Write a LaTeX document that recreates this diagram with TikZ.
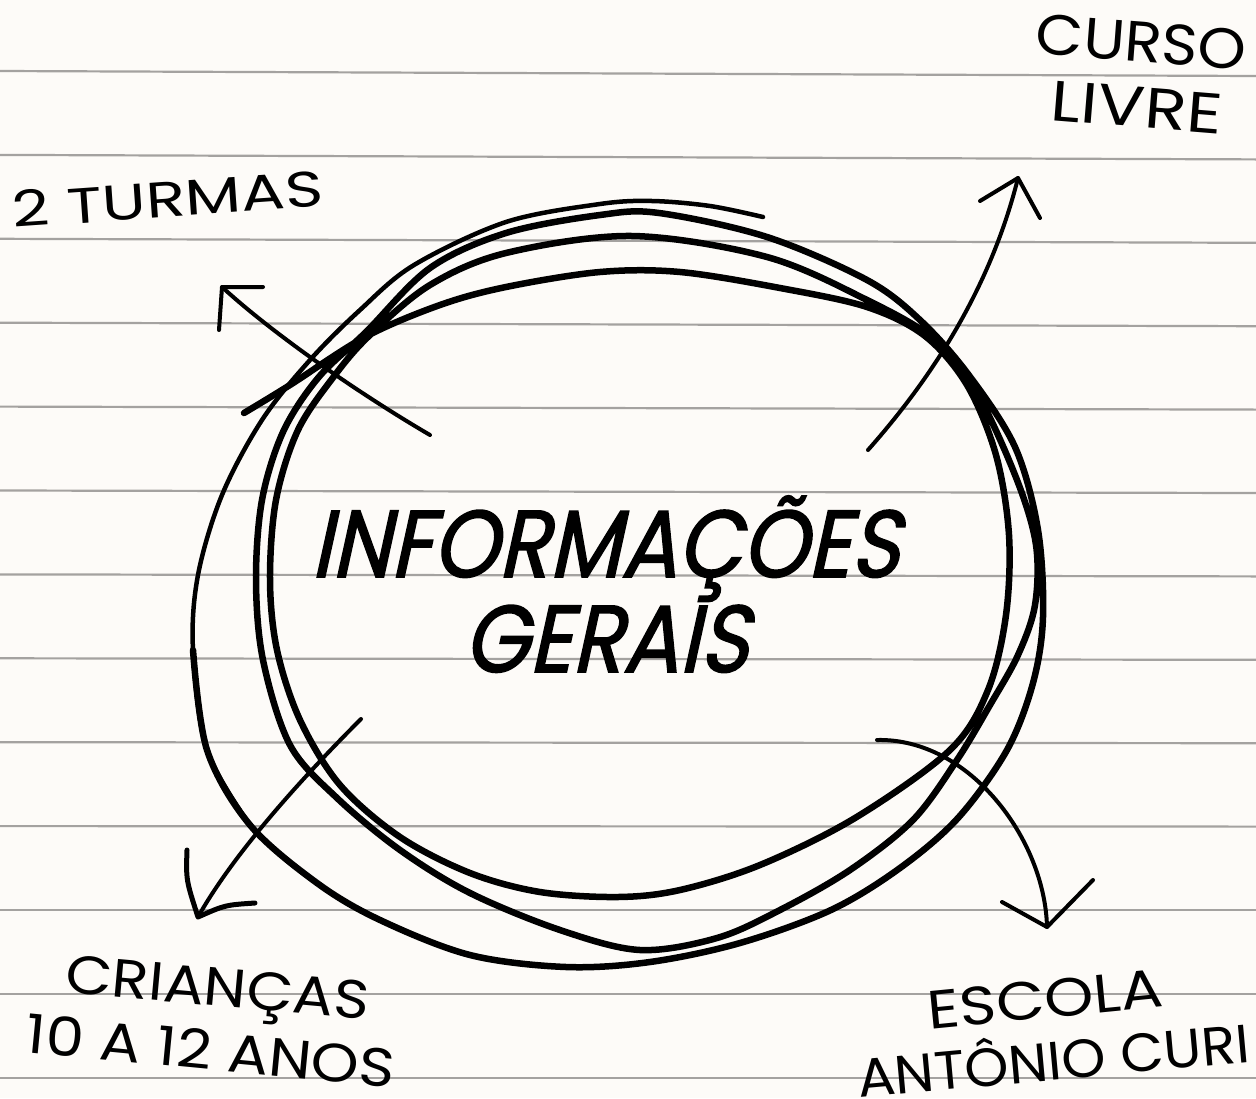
\documentclass[tikz,border=0pt]{standalone}
\usepackage{fontspec}
\setmainfont{Poppins}
\newfontfamily\bigfont{Poppins}[FakeSlant=0.22,FakeStretch=0.88,FakeBold=1.6]
\definecolor{paper}{HTML}{FDFBF8}
\definecolor{rulegray}{HTML}{A4A2A0}
\begin{document}
\begin{tikzpicture}[x=1pt,y=-1pt,
  scrib/.style={line width=6.5pt, line cap=round, line join=round},
  thinscrib/.style={line width=4.5pt, line cap=round, line join=round},
  arrowline/.style={line width=4pt, line cap=round, line join=round},
  lbl/.style={inner sep=0pt, anchor=base, font=\fontsize{54}{60}\selectfont},
  bigtxt/.style={inner sep=0pt, anchor=base, font=\bigfont\fontsize{95}{100}\selectfont}]
\fill[paper] (0,0) rectangle (1256,1098);
\useasboundingbox (0,0) rectangle (1256,1098);
% ruled paper
\foreach \i in {0,...,12} {
  \pgfmathsetmacro{\yl}{71+83.9*\i}
  \pgfmathsetmacro{\dy}{max(0,5-0.5*\i)}
  \draw[rulegray, line width=2.2pt] (0,\yl) -- (1256,\yl+\dy);
}
% scribbled circle
\draw[scrib] plot[smooth, tension=0.55] coordinates {
 (244,413) (290,385) (365,337) (440,305) (506,287) (600,272) (680,272) (780,288) (867,307) (925,336) (967,385) (996,455) (1009,535) (1006,615) (988,690) (950,750) (855,818) (760,865) (680,890) (618,897) (540,892) (470,873) (400,837) (340,785) (300,720) (277,650) (270,580) (276,500) (298,430) (335,375) (370,335)
 (430,285) (506,253) (632,236) (767,257) (867,300) (935,340) (978,395) (1017,480) (1036,545) (1035,605) (1018,655) (990,705) (957,760) (913,820) (850,870) (780,910) (717,938) (640,950) (560,930) (470,893) (400,850) (337,798) (290,745) (263,660) (256,580) (262,500) (283,432) (318,378) (366,332)
 (430,268) (506,233) (600,215) (659,213) (767,237) (867,280) (920,320) (968,374) (1015,447) (1038,530) (1043,617) (1033,683) (1007,750) (958,818) (900,868) (831,910) (740,943) (650,962) (566,967) (470,955) (380,920) (317,883) (250,825) (207,750) (193,650)};
\draw[thinscrib] plot[smooth, tension=0.55] coordinates {
 (250,825) (207,750) (193,650) (198,575) (222,495) (262,420) (310,360) (360,310) (414,265) (506,222) (600,204) (652,201) (710,206) (763,217)};
% arrow coordinates
\coordinate (a1s) at (430,435); \coordinate (a1t) at (222,287);
\coordinate (h1a) at (263,287); \coordinate (h1b) at (219,330);
\coordinate (a2s) at (868,450); \coordinate (a2t) at (1018,178);
\coordinate (h2a) at (980,201); \coordinate (h2b) at (1040,218);
\coordinate (a3s) at (361,719); \coordinate (a3t) at (198,917);
\coordinate (h3a) at (187,850); \coordinate (h3b) at (255,903);
\coordinate (a4s) at (877,740); \coordinate (a4t) at (1047,927);
\coordinate (h4a) at (1002,902); \coordinate (h4b) at (1093,880);
% arrows
\draw[arrowline] (a1s) .. controls (370,400) and (280,340) .. (a1t);
\draw[arrowline] (h1a) -- (a1t) -- (h1b);
\draw[arrowline] (a2s) .. controls (930,380) and (990,290) .. (a2t);
\draw[arrowline] (h2a) -- (a2t) -- (h2b);
\draw[arrowline] (a3s) .. controls (290,790) and (230,860) .. (a3t);
\draw[arrowline, line width=5pt] (h3a) .. controls (186,880) .. (a3t) .. controls (225,905) .. (h3b);
\draw[arrowline] (a4s) .. controls (970,738) and (1045,840) .. (a4t);
\draw[arrowline] (h4a) -- (a4t) -- (h4b);
% labels
\node[lbl, font=\fontsize{50}{56}\selectfont, rotate=4] (turmas) at (169,217) {\scalebox{1.3}[1]{2 TURMAS}};
\node[lbl, font=\fontsize{57}{62}\selectfont, rotate=-4.4] (curso) at (1140,62) {\scalebox{1.08}[1]{CURSO}};
\node[lbl, font=\fontsize{57}{62}\selectfont, rotate=-4.6] (livre) at (1135,127) {\scalebox{1.22}[1]{LIVRE}};
\node[lbl, rotate=-5.2] (criancas) at (216,1006) {\scalebox{1.12}[1]{CRIANÇAS}};
\node[lbl, rotate=-5.5] (idade) at (209,1070) {\scalebox{1.13}[1]{10 A 12 ANOS}};
\node[lbl, rotate=5.6] (escola) at (1047,1018) {\scalebox{1.16}[1]{ESCOLA}};
\node[lbl, rotate=5.2] (curi) at (1055,1080) {\scalebox{1.04}[1]{ANTÔNIO CURI}};
\node[bigtxt] (info) at (605,577) {INFORMAÇÕES};
\node[bigtxt] (gerais) at (606,672) {GERAIS};
\end{tikzpicture}
\end{document}
